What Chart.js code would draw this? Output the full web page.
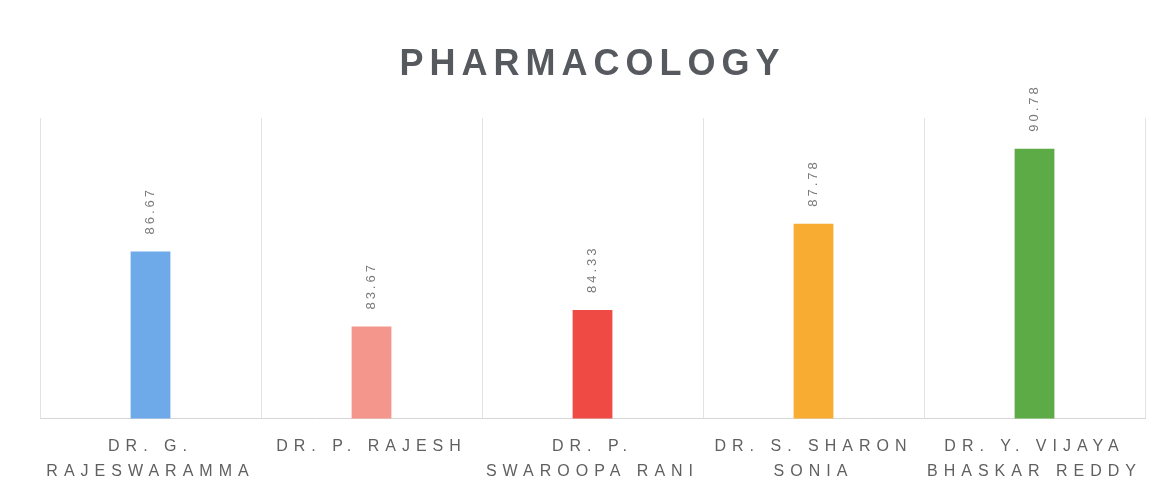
<!DOCTYPE html>
<html><head><meta charset="utf-8">
<script src="https://cdn.jsdelivr.net/npm/chart.js@4"></script>
<style>html,body{margin:0;padding:0;background:#fff}#w{width:1165px;height:487px}</style>
</head><body><div id="w"><canvas id="c"></canvas></div>
<script>
const categories = [["DR. G.","RAJESWARAMMA"],["DR. P. RAJESH"],["DR. P.","SWAROOPA RANI"],["DR. S. SHARON","SONIA"],["DR. Y. VIJAYA","BHASKAR REDDY"]];
const scores = [86.67, 83.67, 84.33, 87.78, 90.78];
const valueLabels = ["86.67","83.67","84.33","87.78","90.78"];
const barColors = ["#6eaaea","#f5968c","#f04a45","#f8ad32","#5cab47"];

const spacing = {
  id:'spacing',
  beforeLayout(chart){ chart.ctx.letterSpacing='6px'; },
  beforeDraw(chart){ chart.ctx.letterSpacing='6px'; }
};
const valLabels = {
  id:'valLabels',
  afterDatasetsDraw(chart){
    const ctx=chart.ctx; const meta=chart.getDatasetMeta(0);
    meta.data.forEach((bar,i)=>{
      ctx.save();
      ctx.letterSpacing='3px';
      ctx.translate(bar.x, bar.y-17);
      ctx.rotate(-Math.PI/2);
      ctx.font='13px "Liberation Sans", Arial, sans-serif';
      ctx.fillStyle='#7a7a7a';
      ctx.textAlign='left'; ctx.textBaseline='middle';
      ctx.fillText(valueLabels[i],0,0);
      ctx.restore();
    });
  }
};
new Chart(document.getElementById('c'),{
  type:'bar',
  data:{labels:categories,datasets:[{data:scores,backgroundColor:barColors,borderWidth:0,categoryPercentage:1,barPercentage:0.18}]},
  options:{
    responsive:true,maintainAspectRatio:false,animation:false,
    layout:{padding:{left:40,right:20,top:10,bottom:-13}},
    plugins:{legend:{display:false},tooltip:{enabled:false},
      title:{display:true,text:'PHARMACOLOGY',color:'#56595e',font:{family:'"Liberation Sans", Arial, sans-serif',size:36,weight:'bold'},padding:{top:33,bottom:32}}},
    scales:{
      x:{grid:{display:true,offset:true,color:'#e3e3e3',drawTicks:false},border:{display:true,color:'#d6d6d6'},
         ticks:{color:'#606060',font:{family:'"Liberation Sans", Arial, sans-serif',size:16,lineHeight:1.55},padding:16,maxRotation:0,autoSkip:false}},
      y:{display:false,min:80,max:92}
    }
  },
  plugins:[spacing,valLabels]
});
</script></body></html>
